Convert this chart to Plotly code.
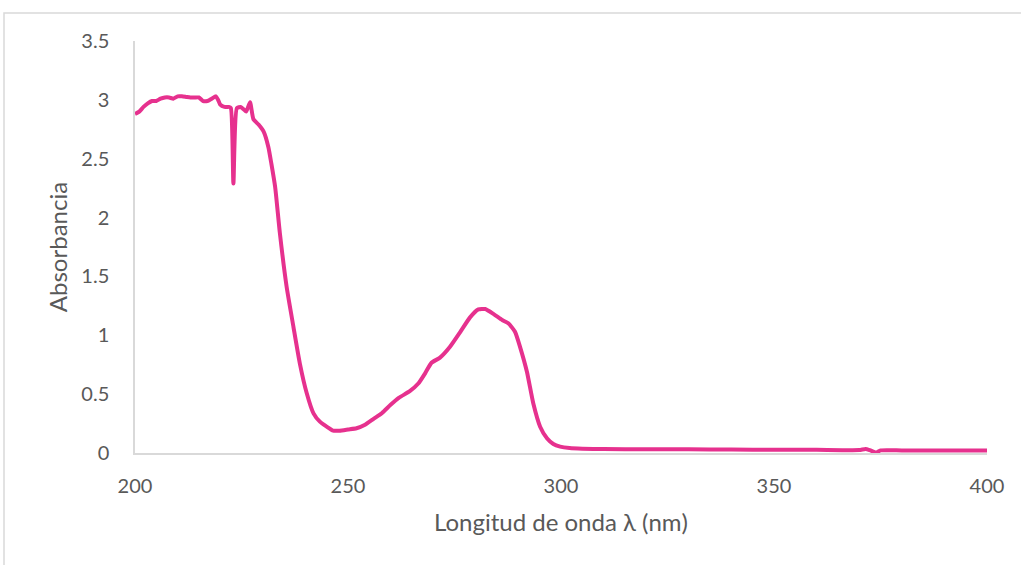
import plotly.graph_objects as go

# UV-Vis absorption spectrum: wavelength (nm) vs absorbance
wavelength = [
    200, 201, 202, 203, 204, 205, 206, 207, 208, 209, 210, 211, 212, 213, 214,
    215, 216, 217, 218, 219, 219.5, 220, 221, 222, 222.5, 223.1, 223.9, 224.8,
    225.5, 226.1, 227.0, 227.8, 229.0, 230.2, 231.3, 232.0, 232.9, 234.0, 235.6,
    237.2, 238.7, 240.3, 241.9, 243.4, 245.0, 246.5, 248, 250, 252, 254, 256,
    258, 260, 262, 264.5, 266.5, 268.1, 269.6, 271.6, 273.9, 276.3, 278.6,
    280.6, 282.2, 284.2, 286.2, 287.7, 289.2, 290.4, 292.0, 293.5, 295.1,
    296.7, 298.2, 299.8, 302, 305, 310, 320, 330, 340, 350, 360, 370, 371.5,
    372.5, 374, 375, 380, 390, 400,
]
absorbance = [
    2.88, 2.90, 2.94, 2.97, 2.99, 2.99, 3.01, 3.02, 3.02, 3.01, 3.03, 3.03,
    3.025, 3.02, 3.02, 3.02, 2.99, 2.99, 3.01, 3.03, 3.00, 2.96, 2.94, 2.94,
    2.93, 2.29, 2.93, 2.94, 2.92, 2.90, 2.98, 2.835, 2.79, 2.73, 2.60, 2.46,
    2.26, 1.87, 1.41, 1.07, 0.76, 0.51, 0.337, 0.266, 0.224, 0.19, 0.19, 0.20,
    0.21, 0.24, 0.29, 0.34, 0.41, 0.47, 0.525, 0.59, 0.677, 0.767, 0.81, 0.90,
    1.025, 1.15, 1.22, 1.223, 1.18, 1.13, 1.10, 1.03, 0.90, 0.69, 0.42, 0.223,
    0.125, 0.076, 0.054, 0.042, 0.036, 0.033, 0.032, 0.031, 0.029, 0.028,
    0.027, 0.025, 0.035, 0.024, 0.003, 0.022, 0.022, 0.022, 0.022,
]

x_ticks = [200, 250, 300, 350, 400]
x_labels = ["200", "250", "300", "350", "400"]
y_ticks = [0, 0.5, 1, 1.5, 2, 2.5, 3, 3.5]
y_labels = ["0", "0.5", "1", "1.5", "2", "2.5", "3", "3.5"]

W, H = 1021, 565
ML, MR, MT, MB = 135, 34, 41, 112
text_color = "#595959"
axis_color = "#D9D9D9"
font_family = "Lato, 'Open Sans', sans-serif"

fig = go.Figure()
fig.add_trace(go.Scatter(
    x=wavelength, y=absorbance, mode="lines",
    line=dict(color="#E6318E", width=4, shape="spline", smoothing=0.5),
    hoverinfo="x+y", showlegend=False,
))

# chart-area outline (starts just inside the page, runs off the right/bottom)
pw, ph = W - ML - MR, H - MT - MB
fig.add_shape(
    type="rect", xref="paper", yref="paper",
    x0=(4 - ML) / pw, x1=(W + 10 - ML) / pw,
    y0=(H - MB - (H + 10)) / ph, y1=(H - MB - 13) / ph,
    line=dict(color=axis_color, width=1.5), fillcolor="rgba(0,0,0,0)",
    layer="below",
)

fig.update_layout(
    width=W, height=H,
    margin=dict(l=ML, r=MR, t=MT, b=MB),
    paper_bgcolor="white", plot_bgcolor="white",
    font=dict(family=font_family, color=text_color, size=20),
    xaxis=dict(
        range=[200, 400], tickvals=x_ticks, ticktext=x_labels,
        showgrid=False, zeroline=False, showline=True,
        linecolor=axis_color, linewidth=1.5, ticks="",
        ticklabelstandoff=14,
        tickfont=dict(size=20, color=text_color),
        title=dict(text="Longitud de onda λ (nm)", standoff=18,
                   font=dict(size=24, color=text_color)),
    ),
    yaxis=dict(
        range=[0, 3.5], tickvals=y_ticks, ticktext=y_labels,
        showgrid=False, zeroline=False, showline=True,
        linecolor=axis_color, linewidth=1.5, ticks="",
        ticklabelstandoff=20,
        tickfont=dict(size=20, color=text_color),
        title=dict(text="Absorbancia", standoff=7,
                   font=dict(size=24, color=text_color)),
    ),
)

fig.write_html("out.html")
